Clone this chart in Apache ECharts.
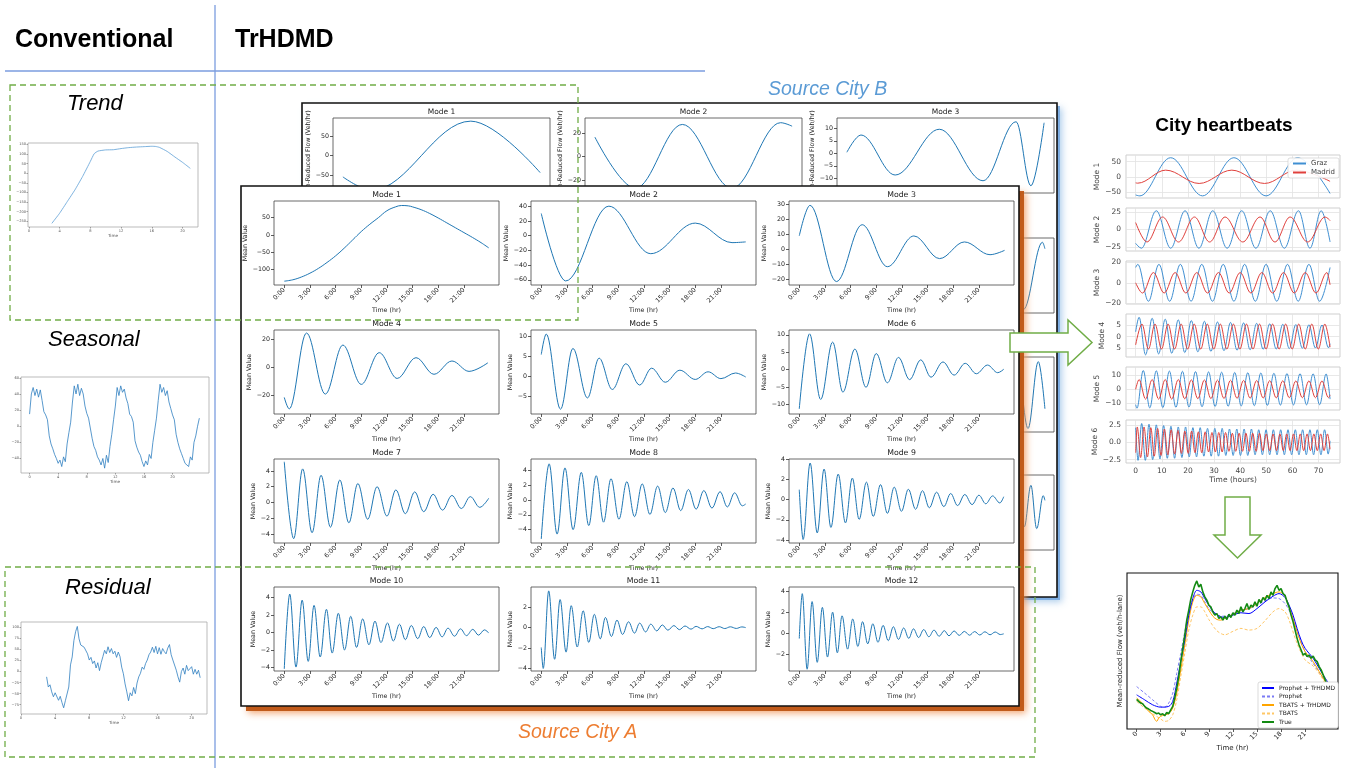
<!DOCTYPE html>
<html><head><meta charset="utf-8">
<script src="https://cdn.jsdelivr.net/npm/echarts@6.0.0/dist/echarts.min.js"></script>
<style>html,body{margin:0;padding:0;background:#fff}#c{width:1351px;height:768px}</style>
</head><body><div id="c"></div><script>
// ================= DATA =================
const hourTicks = [0, 3, 6, 9, 12, 15, 18, 21];
const convTicks = [0, 4, 8, 12, 16, 20];
const hbTicks = [0, 10, 20, 30, 40, 50, 60, 70];

// Conventional decomposition (Time in hours)
const trendData = [[3,-261],[4,-209],[5,-148],[6,-87],[7,-17],[8,61],[8.5,101],[9,115],[10,121],[11,122],[12,128],[13,133],[14,136],[15,138],[16,140],[16.5,139],[17,134],[18,113],[19,84],[20,56],[21,25]];
const seasonalValues = [15,40,48,38,46,36,45,32,18,14,8,-12,-22,-28,-35,-40,-46,-42,-50,-38,-44,-22,-8,5,
  30,50,40,52,38,47,40,25,16,10,12,-15,-25,-30,-38,-42,-48,-40,-52,-36,-45,-25,-10,8,
  25,48,38,50,42,46,35,28,15,12,5,-18,-26,-32,-36,-44,-50,-43,-48,-35,-40,-20,-5,10,
  32,52,42,48,38,44,30,22,14,8,-10,-20,-28,-34,-40,-46,-44,-50,-38,-42,-20,-12,0,10];
const residualValues = [-12,-35,-30,-46,-57,-48,-46,-65,-56,-70,-82,-66,-62,-35,15,33,70,90,102,74,60,64,55,58,40,26,32,18,24,8,20,2,20,34,48,40,56,43,52,40,46,32,44,34,10,-5,-28,-46,-66,-48,-55,-36,-50,-26,-12,-4,10,5,18,26,38,44,55,43,57,40,54,39,52,45,40,53,61,38,26,29,3,-12,-24,0,8,-6,14,2,-2,11,-6,5,-6,3,-14];

// Source City A – 12 modes (hour, mean value)
const modeA1 = [[0,-133],[1,-129],[2,-121],[3,-110],[4,-96],[5,-79],[6,-60],[7,-38],[8,-14],[9,10],[10,31],[11,50],[12,70],[13,81],[13.7,85],[14.5,84],[15,81],[16,73],[17,62],[18,49],[19,35],[20,21],[21,7],[22,-7],[23,-22],[23.9,-37]];
const modeA2 = [[0,30],[2.85,-61.5],[7.9,40],[12.8,-24.5],[18.0,17],[22.3,-9.5],[23.9,-8.5]];
const modeA3 = [[0,9],[1.25,29.3],[4.35,-21.5],[7.35,16.4],[10.3,-11.6],[13.4,8.9],[16.4,-6.2],[19.3,4.9],[22.3,-3.6],[24.0,-0.7]];
const modeA4 = [[0,-21.7],[0.58,-30],[2.6,24.8],[4.8,-19.3],[6.85,16.1],[9.0,-12.3],[11.1,10.6],[13.2,-8],[15.4,7],[17.5,-5],[19.6,4.6],[21.6,-2.9],[23.8,3.3]];
const modeA5 = [[0,5.4],[0.58,10.5],[2.25,-8.2],[3.7,6.9],[5.4,-5.4],[6.76,4.5],[8.3,-3.3],[9.9,3.1],[11.5,-2.2],[12.9,2.0],[14.5,-1.5],[16.2,1.5],[18.0,-0.8],[19.5,1.1],[21.0,-0.6],[22.7,0.8],[23.9,-0.2]];
const modeA6 = [[0,-11.3],[1.2,10.3],[2.5,-8.6],[3.9,7.9],[5.1,-6.5],[6.5,5.9],[7.8,-5.1],[9.0,4.6],[10.3,-3.8],[11.6,3.5],[12.9,-2.9],[14.2,2.8],[15.4,-2.2],[16.8,2.2],[18.1,-1.6],[19.4,1.8],[20.7,-1.2],[22.0,1.3],[23.2,-0.9],[23.9,0.1]];
const modeA7 = [[0,5.15],[1.1,-4.55],[2.15,4.25],[3.25,-3.8],[4.3,3.45],[5.4,-3.1],[6.5,2.85],[7.55,-2.55],[8.6,2.4],[9.75,-2.1],[10.85,2.0],[12.0,-1.7],[13.05,1.6],[14.15,-1.4],[15.25,1.35],[16.3,-1.15],[17.4,1.05],[18.5,-0.95],[19.6,0.9],[20.7,-0.75],[21.75,0.75],[22.85,-0.6],[23.9,0.55]];
const modeA8 = [[0,-5.25],[0.92,4.85],[1.85,-4.6],[2.77,4.3],[3.72,-4.0],[4.68,3.7],[5.55,-3.45],[6.42,3.25],[7.28,-3.0],[8.15,2.85],[9.08,-2.6],[10.0,2.45],[10.9,-2.25],[11.8,2.15],[12.7,-1.95],[13.6,1.85],[14.5,-1.7],[15.4,1.6],[16.3,-1.45],[17.2,1.4],[18.1,-1.25],[19.0,1.25],[19.95,-1.1],[20.9,1.1],[21.75,-0.95],[22.6,0.95],[23.5,-0.8],[23.9,-0.55]];
const modeA9 = [[0,1.0],[0.45,-3.95],[1.27,3.65],[2.1,-3.3],[2.9,3.05],[3.7,-2.75],[4.55,2.55],[5.4,-2.3],[6.2,2.15],[7.0,-1.95],[7.85,1.75],[8.65,-1.65],[9.5,1.5],[10.3,-1.35],[11.1,1.25],[11.95,-1.15],[12.75,1.05],[13.6,-0.95],[14.4,0.9],[15.2,-0.8],[16.05,0.75],[16.9,-0.68],[17.7,0.62],[18.5,-0.58],[19.35,0.52],[20.2,-0.48],[21.0,0.45],[21.8,-0.4],[22.6,0.38],[23.45,-0.32],[23.9,0.3]];
const modeA10 = [[0,-4.15],[0.64,4.4],[1.37,-3.95],[2.09,3.7],[2.8,-3.3],[3.48,3.1],[4.2,-2.8],[4.93,2.65],[5.6,-2.35],[6.32,2.2],[7.05,-2.0],[7.77,1.85],[8.45,-1.7],[9.16,1.55],[9.9,-1.4],[10.6,1.3],[11.3,-1.15],[12.06,1.1],[12.75,-0.98],[13.46,0.95],[14.15,-0.82],[14.85,0.8],[15.6,-0.7],[16.3,0.68],[17.0,-0.58],[17.75,0.58],[18.45,-0.5],[19.14,0.5],[19.9,-0.42],[20.6,0.42],[21.3,-0.36],[22.04,0.36],[22.7,-0.3],[23.4,0.3],[23.9,-0.05]];
const modeA11 = [[0,-1.95],[0.23,-4.0],[0.87,3.6],[1.56,-3.1],[2.2,2.75],[2.9,-2.4],[3.5,2.15],[4.2,-1.9],[4.9,1.65],[5.55,-1.45],[6.2,1.3],[6.9,-1.1],[7.5,1.0],[8.2,-0.87],[8.85,0.74],[9.5,-0.67],[10.2,0.57],[10.9,-0.54],[11.5,0.44],[12.2,-0.42],[12.8,0.34],[13.5,-0.32],[14.15,0.26],[14.8,-0.25],[15.5,0.2],[16.15,-0.2],[16.8,0.16],[17.5,-0.15],[18.1,0.12],[18.8,-0.12],[19.45,0.1],[20.1,-0.1],[20.8,0.09],[21.45,-0.09],[22.1,0.08],[22.8,-0.08],[23.45,0.07],[23.9,0.0]];
const modeA12 = [[0,-0.5],[0.35,3.75],[0.92,-3.4],[1.5,3.0],[2.1,-2.75],[2.7,2.45],[3.3,-2.25],[3.9,2.0],[4.45,-1.85],[5.0,1.65],[5.65,-1.5],[6.25,1.35],[6.85,-1.25],[7.4,1.1],[8.0,-1.0],[8.6,0.9],[9.2,-0.85],[9.8,0.75],[10.4,-0.7],[11.0,0.62],[11.6,-0.58],[12.2,0.5],[12.8,-0.48],[13.35,0.42],[13.95,-0.4],[14.55,0.35],[15.15,-0.33],[15.75,0.3],[16.35,-0.28],[16.95,0.25],[17.5,-0.24],[18.1,0.22],[18.7,-0.2],[19.3,0.18],[19.9,-0.18],[20.5,0.16],[21.1,-0.16],[21.7,0.14],[22.3,-0.14],[22.9,0.12],[23.5,-0.12],[23.9,-0.05]];

// Source City B – visible modes (hour, flow)
const modeB1 = [[0,-54],[3.5,-88],[15.5,88],[23.9,-43]];
const modeB2 = [[0,16.7],[4.9,-27],[10.6,27.5],[16.6,-27],[22.5,29],[23.9,26]];
const modeB3 = [[0,0.4],[1.7,7.3],[5.85,-8.7],[11.2,9.6],[16.5,-11],[20.5,12.6],[22.3,-13],[23.9,12.2]];
const modeB6 = [[19.0,-0.2],[21.4,-0.95],[23.7,0.93],[24.0,0.75]];
const modeB9 = [[19.3,-0.9],[20.6,0.95],[21.95,-0.95],[23.2,0.92],[24.0,-0.4]];
const modeB12 = [[19.9,-0.4],[20.7,0.7],[21.5,-0.4],[22.3,0.76],[23.0,-0.45],[23.8,0.47],[24.0,0.34]];

// City heartbeats (hours, value)
const grazM1 = [[0,-60],[1.6,-63],[13.4,63],[25.6,-63],[37.6,63],[49.9,-63],[62,63],[74.4,-55]];
const madridM1 = [[0,-20],[0.8,-21],[11.5,22],[24.3,-22],[36.8,22],[49.3,-22],[61.5,22],[74.4,-15]];
const grazM2 = [[0,-20],[2.2,-27],[7.9,27],[13.4,-27],[18.9,27],[24.2,-27],[29.5,27],[35.0,-27],[40.6,27],[46.0,-27],[51.5,27],[56.9,-27],[62.3,27],[66.7,-27],[71.0,27],[74.4,-18]];
const madridM2 = [[0,10],[4.3,-18],[10.3,18],[16.4,-18],[22.5,18],[28.3,-18],[34.2,18],[41,-18],[47.6,18],[53.3,-18],[59.1,18],[65.8,-18],[72.5,18],[74.4,13]];
const grazM3 = [[0,15],[0.8,18],[4.9,-18],[8.9,18],[13.0,-18],[17.1,18],[21.2,-18],[25.3,18],[29.4,-18],[33.5,18],[37.6,-18],[41.7,18],[45.8,-18],[49.9,18],[54.0,-18],[58.1,18],[62.2,-18],[66.3,18],[70.4,-18],[74.4,15]];
const madridM3 = [[0,0],[2.6,-10],[6.8,10],[10.9,-10],[15.1,10],[19.2,-10],[23.4,10],[27.5,-10],[31.7,10],[35.8,-10],[40,10],[44.1,-10],[48.3,10],[52.4,-10],[56.6,10],[60.7,-10],[64.9,10],[69,-10],[73.2,10],[74.4,-2]];
const grazM4 = [[0,2],[1.3,8.2],[3.8,-7.8],[6.3,7.8],[8.8,-7.4],[11.3,7.4],[13.8,-7.1],[16.3,7.1],[18.8,-6.8],[21.3,6.8],[23.8,-6.5],[26.3,6.5],[28.8,-6.3],[31.3,6.2],[33.8,-6.0],[36.3,6.0],[38.8,-5.8],[41.3,5.8],[43.8,-5.6],[46.3,5.6],[48.8,-5.4],[51.3,5.4],[53.8,-5.3],[56.3,5.2],[58.8,-5.1],[61.3,5.1],[63.8,-5.0],[66.3,5.0],[68.8,-4.9],[71.3,4.9],[73.8,-4.8],[74.4,-3]];
const madridM4 = [[0,-3.5],[2.4,5.3],[4.9,-5.3],[7.4,5.3],[9.9,-5.3],[12.4,5.3],[14.9,-5.3],[17.4,5.3],[19.9,-5.3],[22.4,5.3],[24.9,-5.3],[27.4,5.3],[29.9,-5.3],[32.4,5.3],[34.9,-5.3],[37.4,5.3],[39.9,-5.3],[42.4,5.3],[44.9,-5.3],[47.4,5.3],[49.9,-5.3],[52.4,5.3],[54.9,-5.3],[57.4,5.3],[59.9,-5.3],[62.4,5.3],[64.9,-5.3],[67.4,5.3],[69.9,-5.3],[72.4,5.3],[74.4,-4.5]];
const grazM5 = [[0,-11],[0.5,-13.5],[2.9,13.5],[5.4,-13.3],[7.9,13.3],[10.4,-13.1],[12.9,13.1],[15.4,-12.9],[17.9,12.9],[20.4,-12.7],[22.9,12.7],[25.4,-12.5],[27.9,12.5],[30.4,-12.3],[32.9,12.3],[35.4,-12.1],[37.9,12.1],[40.4,-11.9],[42.9,11.9],[45.4,-11.7],[47.9,11.7],[50.4,-11.5],[52.9,11.5],[55.4,-11.3],[57.9,11.3],[60.4,-11.2],[62.9,11.2],[65.4,-11.1],[67.9,11.1],[70.4,-11],[72.9,11],[74.4,-7]];
const madridM5 = [[0,0],[1.3,7],[3.8,-7],[6.3,7],[8.8,-7],[11.3,7],[13.8,-7],[16.3,7],[18.8,-6.8],[21.3,6.8],[23.8,-6.7],[26.3,6.7],[28.8,-6.6],[31.3,6.6],[33.8,-6.5],[36.3,6.5],[38.8,-6.4],[41.3,6.4],[43.8,-6.3],[46.3,6.3],[48.8,-6.2],[51.3,6.2],[53.8,-6.1],[56.3,6.1],[58.8,-6],[61.3,6],[63.8,-6],[66.3,6],[68.8,-6],[71.3,6],[73.8,-6],[74.4,-4]];
const grazM6 = [[0,2.1],[0.9,-2.6],[2.3,2.7],[3.7,-2.6],[5.1,2.6],[6.5,-2.5],[7.9,2.5],[9.3,-2.4],[10.7,2.4],[12.1,-2.3],[13.5,2.3],[14.9,-2.3],[16.3,2.2],[17.7,-2.2],[19.1,2.2],[20.5,-2.1],[21.9,2.1],[23.3,-2.1],[24.7,2.1],[26.1,-2.0],[27.5,2.0],[28.9,-2.0],[30.3,2.0],[31.7,-2.0],[33.1,2.0],[34.5,-1.9],[35.9,1.9],[37.3,-1.9],[38.7,1.9],[40.1,-1.9],[41.5,1.9],[42.9,-1.9],[44.3,1.9],[45.7,-1.8],[47.1,1.8],[48.5,-1.8],[49.9,1.8],[51.3,-1.8],[52.7,1.8],[54.1,-1.8],[55.5,1.8],[56.9,-1.8],[58.3,1.8],[59.7,-1.8],[61.1,1.8],[62.5,-1.8],[63.9,1.8],[65.3,-1.8],[66.7,1.8],[68.1,-1.8],[69.5,1.8],[70.9,-1.8],[72.3,1.8],[73.7,-1.7],[74.4,0.2]];
const madridM6 = [[0,-1.5],[0.6,2.2],[1.9,-2.2],[3.2,2.2],[4.5,-2.1],[5.8,2.1],[7.1,-2.0],[8.4,2.0],[9.7,-1.9],[11.0,1.9],[12.3,-1.8],[13.6,1.8],[14.9,-1.7],[16.2,1.7],[17.5,-1.6],[18.8,1.6],[20.1,-1.6],[21.4,1.6],[22.7,-1.5],[24.0,1.5],[25.3,-1.5],[26.6,1.5],[27.9,-1.4],[29.2,1.4],[30.5,-1.4],[31.8,1.4],[33.1,-1.4],[34.4,1.4],[35.7,-1.3],[37.0,1.3],[38.3,-1.3],[39.6,1.3],[40.9,-1.3],[42.2,1.3],[43.5,-1.3],[44.8,1.3],[46.1,-1.3],[47.4,1.3],[48.7,-1.2],[50.0,1.2],[51.3,-1.2],[52.6,1.2],[53.9,-1.2],[55.2,1.2],[56.5,-1.2],[57.8,1.2],[59.1,-1.2],[60.4,1.2],[61.7,-1.2],[63.0,1.2],[64.3,-1.2],[65.6,1.2],[66.9,-1.2],[68.2,1.2],[69.5,-1.2],[70.8,1.2],[72.1,-1.2],[73.4,1.2],[74.4,-1.0]];

// Forecast comparison (hour, mean-reduced flow; arbitrary units, no y ticks in source)
const prophetTr = [[0,21.9],[1,18.7],[2,15.5],[3,14.0],[4,14.5],[4.5,17.7],[5,29.4],[5.5,43.2],[6,57],[6.5,73],[7,83.6],[7.5,88.9],[8,87.9],[8.5,83.6],[9,79.4],[9.5,75.7],[10,73.4],[10.5,71.9],[11,71.5],[12,73],[13,74.5],[14,74],[15,77.2],[16,81.5],[17,85.1],[17.75,86.8],[18.5,84.3],[19,79.4],[19.5,73],[20,64.5],[20.5,57],[21,51.7],[22,45.3],[23,36.8],[23.9,29.4]];
const prophet = [[0,27.2],[1,23],[2,18.7],[3,14.5],[3.5,14],[4,16.6],[4.5,23],[5,35.7],[5.5,48.5],[6,62.3],[6.5,75.1],[7,82.6],[7.5,86.4],[8,85.7],[8.5,81.5],[9,77.2],[10,73],[11,72.3],[12,74],[13,76.2],[14,77.2],[15,79.4],[16,82.1],[17,84],[17.75,83.6],[18.5,80.4],[19,76.2],[19.5,69.8],[20,62.3],[21,49.6],[22,42.1],[23,34.7],[23.9,28.3]];
const tbatsTr = [[0,19.8],[0.5,17.7],[1,14.5],[1.5,11.3],[2,9.1],[2.25,6.4],[2.5,4.9],[2.75,7],[3,8.1],[3.5,9.1],[4,9.8],[4.5,13.4],[5,23],[5.5,37.9],[6,53.8],[6.5,69.8],[7,81.5],[7.5,85.7],[8,84.7],[8.5,80.4],[9,76.2],[9.5,72.3],[10,70.2],[10.5,69.8],[11,70.9],[12,73.6],[13,76.2],[14,77.2],[15,80.4],[16,84.3],[17,86.8],[17.75,87.9],[18.5,85.1],[19,78.3],[19.5,70.9],[20,62.3],[20.5,54.9],[21,49.6],[22,43.2],[23,34.7],[23.9,27.2]];
const tbats = [[0,17.7],[1,13.4],[2,9.8],[3,6.4],[3.5,4.9],[4,5.5],[4.5,9.1],[5,18.7],[5.5,33.6],[6,48.5],[6.5,63.4],[7,73],[7.5,78.3],[8,78.3],[8.5,75.1],[9,70.2],[10,63],[11,60.4],[12,62.6],[13,64.5],[14,63.4],[15,64.5],[16,69.4],[17,75.1],[17.75,77.2],[18.5,75.1],[19,69.8],[20,54.9],[21,44.3],[22,40.4],[23,33.6],[23.9,25.1]];
const trueFlow = [19,17.7,16.6,16.2,14.5,13.4,12.8,11.9,11.3,10.6,9.8,10.2,9.1,9.8,8.5,10.6,9.8,12.3,14.5,19.8,26.2,33.6,43.2,51.7,60.2,69.8,76.2,83,87.9,92.1,94.9,91,92.8,87.9,84.7,82.6,79.4,78.3,75.1,73,74,70.9,71.9,69.8,72.3,70.2,73.6,71.5,74.5,73,76.2,74,78.3,75.1,77.2,80.4,76.6,79.4,78.3,81.5,78.7,83,80.9,84.3,82.6,85.7,83.6,87.9,85.7,90,92.1,88.9,90,86.8,85.7,81.5,78.3,73,68.7,63.4,58.1,53.8,50.6,47.4,48.5,46.4,47.4,45.3,46.8,44.3,43.2,40,37.9,34.7,31.5,28.3,26];

// Axis ranges / tick values per panel
const modeAData = [modeA1,modeA2,modeA3,modeA4,modeA5,modeA6,modeA7,modeA8,modeA9,modeA10,modeA11,modeA12];
const modeARange = [[-144,98],[-67,47],[-23.8,32.2],[-33.7,27],[-9.4,11.5],[-12.8,11.4],[-5.1,5.5],[-5.8,5.5],[-4.3,4.05],[-4.4,5.2],[-4.25,3.98],[-3.57,4.38]];
const modeATicks = [[-100,-50,0,50],[-60,-40,-20,0,20,40],[-20,-10,0,10,20,30],[-20,0,20],[-5,0,5,10],[-10,-5,0,5,10],[-4,-2,0,2,4],[-4,-2,0,2,4],[-4,-2,0,2,4],[-4,-2,0,2,4],[-4,-2,0,2],[-2,0,2,4]];
const hbGraz = [grazM1,grazM2,grazM3,grazM4,grazM5,grazM6];
const hbMadrid = [madridM1,madridM2,madridM3,madridM4,madridM5,madridM6];
const hbRange = [[-70,72],[-31,31],[-20.7,21.3],[-8.7,9.6],[-14.8,16],[-2.98,3.2]];
const hbTicks_y = [[-50,0,50],[-25,0,25],[-20,0,20],[-5,0,5],[-10,0,10],[-2.5,0,2.5]];

// ================= BUILD =================
const FONT = '"DejaVu Sans", sans-serif';
const ARIAL = '"Liberation Sans", Arial, sans-serif';
const mn = v => String(v).replace('-', '\u2212');
const grid = [], xAxis = [], yAxis = [], series = [], graphic = [];

function plot(p) {
  const i = grid.length;
  grid.push({left: p.l, top: p.t, width: p.w, height: p.h, show: true, z: p.z, backgroundColor: 'transparent',
    borderColor: p.bc || '#333', borderWidth: p.bw || 0.8});
  const lc = p.lc || '#222';
  xAxis.push({gridIndex: i, type: 'value', min: p.x[0], max: p.x[1], z: p.z, position: 'bottom',
    axisLine: {show: false, onZero: false},
    axisTick: {show: p.xtick !== false, customValues: p.xt, length: p.tl || 3, lineStyle: {color: p.tc || '#333', width: 0.8}},
    axisLabel: {show: p.xlab !== false, customValues: p.xt, formatter: p.xf || mn, rotate: p.xr || 0,
      fontSize: p.fs, color: lc, fontFamily: FONT, margin: p.xm || 4},
    splitLine: {show: !!p.gl, lineStyle: {color: '#e2e2e2', width: 0.8}},
    name: p.xn || '', nameLocation: 'middle', nameGap: p.xng || 20,
    nameTextStyle: {fontSize: p.nfs || p.fs, color: lc, fontFamily: FONT}});
  yAxis.push({gridIndex: i, type: 'value', min: p.y[0], max: p.y[1], z: p.z, position: 'left',
    axisLine: {show: false, onZero: false},
    axisTick: {show: p.ytick !== false, customValues: p.yt, length: p.tl || 3, lineStyle: {color: p.tc || '#333', width: 0.8}},
    axisLabel: {show: p.ylab !== false, customValues: p.yt, formatter: p.yf || mn,
      fontSize: p.fs, color: lc, fontFamily: FONT, margin: p.ym || 4},
    splitLine: {show: !!p.gl, lineStyle: {color: '#e2e2e2', width: 0.8}},
    name: p.yn || '', nameLocation: 'middle', nameRotate: 90, nameGap: p.yng || 20,
    nameTextStyle: {fontSize: p.nfs || p.fs, color: lc, fontFamily: FONT}});
  return i;
}
function line(gi, data, color, o) {
  o = o || {};
  const s = {type: 'line', xAxisIndex: gi, yAxisIndex: gi, data: data, symbol: 'none', showSymbol: false,
    smooth: o.smooth === undefined ? 0.36 : o.smooth,
    lineStyle: {color: color, width: o.w || 1, type: o.dash || 'solid'}, itemStyle: {color: color},
    z: o.z || 3, silent: true, animation: false, clip: true};
  if (o.name) s.name = o.name;
  if (o.mono !== false) s.smoothMonotone = 'x';
  series.push(s);
}
function txt(x, y, text, font, fill, align, z, rot) {
  const e = {type: 'text', x: x, y: y, z: z || 20, silent: true,
    style: {text: text, font: font, fill: fill || '#000', align: align || 'left', verticalAlign: 'middle',
      textAlign: align || 'left', textVerticalAlign: 'middle'}};
  if (rot) e.rotation = rot;
  graphic.push(e);
}
function panel(x, y, w, h, z, dark, glow, off) {
  // coloured drop shadow: a solid offset band with a soft glow, then the white panel and its frame
  graphic.push({type: 'rect', z: z - 0.5, silent: true, shape: {x: x + off, y: y + off, width: w, height: h},
    style: {fill: dark, shadowBlur: 7, shadowColor: glow, shadowOffsetX: 2, shadowOffsetY: 2}});
  graphic.push({type: 'rect', z: z, silent: true, shape: {x: x, y: y, width: w, height: h}, style: {fill: '#fff'}});
  graphic.push({type: 'rect', z: z, silent: true, shape: {x: x, y: y, width: w, height: h},
    style: {fill: 'none', stroke: '#111', lineWidth: 1.6}});
}

// ---- background lines & headings ----
graphic.push({type: 'line', z: 1, silent: true, shape: {x1: 215, y1: 5, x2: 215, y2: 768}, style: {stroke: '#7b9ddf', lineWidth: 1.3}});
graphic.push({type: 'line', z: 1, silent: true, shape: {x1: 5, y1: 71, x2: 705, y2: 71}, style: {stroke: '#7b9ddf', lineWidth: 1.3}});
txt(15, 40, 'Conventional', 'bold 25px ' + ARIAL, '#000');
txt(235, 40, 'TrHDMD', 'bold 25px ' + ARIAL, '#000');
txt(67, 104, 'Trend', 'italic 22px ' + ARIAL, '#000');
txt(48, 340, 'Seasonal', 'italic 22px ' + ARIAL, '#000');
txt(65, 588, 'Residual', 'italic 22px ' + ARIAL, '#000');
txt(768, 90, 'Source City B', 'italic 19.5px ' + ARIAL, '#5b9bd5');
txt(518, 733, 'Source City A', 'italic 19.5px ' + ARIAL, '#ed7d31');
txt(1224, 126, 'City heartbeats', 'bold 19px ' + ARIAL, '#000', 'center');

// ---- conventional small plots ----
const cfs = 3.6;
let g = plot({l: 28, t: 143, w: 170, h: 84, x: [-0.1, 22], y: [-280, 157], xt: convTicks, yt: [-250,-200,-150,-100,-50,0,50,100,150],
  fs: cfs, lc: '#555', bc: '#aaa', tc: '#888', tl: 1.5, xm: 2, ym: 2, xn: 'Time', xng: 5, nfs: 4.2, z: 2});
line(g, trendData, '#5d9fd6', {mono: false, smooth: 0.15, w: 0.8});
g = plot({l: 21, t: 377, w: 188, h: 96, x: [-1.2, 25.1], y: [-58, 61], xt: convTicks, yt: [-40,-20,0,20,40,60],
  fs: cfs, lc: '#555', bc: '#aaa', tc: '#888', tl: 1.5, xm: 2, ym: 2, xn: 'Time', xng: 5, nfs: 4.2, z: 2});
line(g, seasonalValues.map((v, i) => [i * 0.25, v]), '#2f7fc0', {mono: false, smooth: 0, w: 0.8});
g = plot({l: 21, t: 622, w: 186, h: 92, x: [0, 21.8], y: [-96, 112], xt: convTicks, yt: [-75,-50,-25,0,25,50,75,100],
  fs: cfs, lc: '#555', bc: '#aaa', tc: '#888', tl: 1.5, xm: 2, ym: 2, xn: 'Time', xng: 5, nfs: 4.2, z: 2});
line(g, residualValues.map((v, i) => [3 + i * 0.2, v]), '#2f7fc0', {mono: false, smooth: 0, w: 0.8});

// ---- Source City B panel (behind) ----
panel(302, 103, 755, 494, 1, 'rgba(120,170,225,0.9)', 'rgba(157,195,230,0.9)', 3);
const bCols = [333, 585, 837], bRows = [118, 238, 357, 475], bW = 217, bH = 75;
const bCfg = [
  {r: 0, c: 0, d: modeB1, y: [-95, 96], yt: [-50, 0, 50], t: 'Mode 1', yng: 14},
  {r: 0, c: 1, d: modeB2, y: [-31, 33], yt: [-20, 0, 20], t: 'Mode 2', yng: 14},
  {r: 0, c: 2, d: modeB3, y: [-15.9, 14.1], yt: [-10, -5, 0, 5, 10], t: 'Mode 3', yng: 18},
  {r: 1, c: 2, d: modeB6, y: [-1.05, 1.05], yt: [-1, 0, 1], t: 'Mode 6', yng: 14},
  {r: 2, c: 2, d: modeB9, y: [-1.05, 1.05], yt: [-1, 0, 1], t: 'Mode 9', yng: 14},
  {r: 3, c: 2, d: modeB12, y: [-1.05, 1.05], yt: [-1, 0, 1], t: 'Mode 12', yng: 14}];
bCfg.forEach(b => {
  const gi = plot({l: bCols[b.c], t: bRows[b.r], w: bW, h: bH, x: [-1.2, 25.1], y: b.y, xt: hourTicks, yt: b.yt,
    xf: v => v + ':00', xr: 45, fs: 6.3, lc: '#222', bc: '#444', yn: 'Mean-Reduced Flow (Veh/hr)', yng: b.yng,
    xn: 'Time (hr)', xng: 22, nfs: 6.3, z: 2});
  line(gi, b.d, '#1f77b4', {z: 3});
  txt(bCols[b.c] + bW / 2, bRows[b.r] - 6, b.t, '7.5px ' + FONT, '#222', 'center', 3);
});

// ---- Source City A panel (front) ----
panel(241, 186, 778, 520, 5, 'rgba(190,85,20,0.95)', 'rgba(240,150,90,0.9)', 5);
const aCols = [274, 531, 789], aRows = [201, 330, 459, 587], aW = 225, aH = 84;
const aNameGap = [22, 18.5, 18.8, 18.5, 15, 19.5, 15.5, 15, 15.5, 15.5, 15.5, 15.5];
modeAData.forEach((d, k) => {
  const r = Math.floor(k / 3), c = k % 3;
  const gi = plot({l: aCols[c], t: aRows[r], w: aW, h: aH, x: [-1.2, 25.1], y: modeARange[k], xt: hourTicks, yt: modeATicks[k],
    xf: v => v + ':00', xr: 45, fs: 6.3, lc: '#222', bc: '#444', yn: 'Mean Value', yng: aNameGap[k],
    xn: 'Time (hr)', xng: 22, nfs: 6.3, z: 6});
  if (k === 0) line(gi, d, '#1f77b4', {z: 7, mono: false, smooth: 0.4});
  else line(gi, d, '#1f77b4', {z: 7});
  txt(aCols[c] + aW / 2, aRows[r] - 6, 'Mode ' + (k + 1), '7.8px ' + FONT, '#222', 'center', 7);
});

// ---- overlays: dashed boxes and arrows ----
graphic.push({type: 'rect', z: 20, silent: true, shape: {x: 10, y: 85, width: 568, height: 235},
  style: {fill: 'none', stroke: '#70ad47', lineWidth: 1.3, lineDash: [6, 4]}});
graphic.push({type: 'rect', z: 20, silent: true, shape: {x: 5, y: 567, width: 1030, height: 190},
  style: {fill: 'none', stroke: '#70ad47', lineWidth: 1.3, lineDash: [6, 4]}});
graphic.push({type: 'polygon', z: 20, silent: true,
  shape: {points: [[1010, 333], [1068, 333], [1068, 320], [1092, 342.5], [1068, 365], [1068, 352], [1010, 352]]},
  style: {fill: '#fff', stroke: '#70ad47', lineWidth: 1.5}});
graphic.push({type: 'polygon', z: 20, silent: true,
  shape: {points: [[1225, 497], [1250, 497], [1250, 535], [1261, 535], [1237.5, 558], [1214, 535], [1225, 535]]},
  style: {fill: '#fff', stroke: '#70ad47', lineWidth: 1.5}});

// ---- City heartbeats ----
const hbTops = [155, 208, 261, 314, 367, 420];
hbTops.forEach((t, k) => {
  const last = k === 5;
  const gi = plot({l: 1126, t: t, w: 214, h: 43, x: [-3.7, 78.2], y: hbRange[k], xt: hbTicks, yt: hbTicks_y[k],
    xtick: false, ytick: false, xlab: last, gl: true, fs: 7.5, lc: '#444', bc: '#cfcfcf', bw: 1,
    yf: k === 5 ? (v => mn(v.toFixed(1))) : (k === 3 ? (v => String(Math.abs(v))) : mn),
    yn: 'Mode ' + (k + 1), yng: 20, nfs: 7.5, xn: last ? 'Time (hours)' : '', xng: 12, ym: 5, xm: 4, z: 2});
  line(gi, hbGraz[k], '#3f8fd2', {name: 'Graz', w: 1});
  line(gi, hbMadrid[k], '#e0403c', {name: 'Madrid', w: 1});
});

// ---- forecast panel ----
g = plot({l: 1127, t: 573, w: 211, h: 156, x: [-1.2, 25.1], y: [0, 100], xt: hourTicks, yt: [],
  ytick: false, ylab: false, xr: 45, fs: 6.5, lc: '#222', bc: '#111', bw: 1.1,
  xn: 'Time (hr)', xng: 14, nfs: 7, yn: 'Mean-reduced Flow (veh/h-lane)', yng: 3, z: 2});
line(g, tbats, '#ffc766', {name: 'TBATS', dash: [3, 2], mono: false, smooth: 0.3});
line(g, prophet, '#7b7bf5', {name: 'Prophet', dash: [3, 2], mono: false, smooth: 0.3});
line(g, tbatsTr, '#ffa500', {name: 'TBATS + TrHDMD', mono: false, smooth: 0.3});
line(g, prophetTr, '#0000ff', {name: 'Prophet + TrHDMD', mono: false, smooth: 0.3});
line(g, trueFlow.map((v, i) => [i * 0.25, v]), '#138a13', {name: 'True', w: 1.6, mono: false, smooth: 0});

const option = {
  animation: false,
  backgroundColor: '#fff',
  grid: grid, xAxis: xAxis, yAxis: yAxis, series: series,
  graphic: {elements: graphic},
  legend: [
    {data: ['Graz', 'Madrid'], left: 1288, top: 158, orient: 'vertical', itemGap: 2, itemWidth: 13, itemHeight: 6,
      padding: [2, 4], backgroundColor: 'rgba(255,255,255,0.9)', borderColor: '#d0d0d0', borderWidth: 0.7, borderRadius: 2,
      itemStyle: {opacity: 0}, textStyle: {fontSize: 7, color: '#444', fontFamily: FONT}, selectedMode: false, z: 10},
    {data: ['Prophet + TrHDMD', 'Prophet', 'TBATS + TrHDMD', 'TBATS', 'True'], left: 1258, top: 682, orient: 'vertical',
      itemGap: 2.5, itemWidth: 12, itemHeight: 6, padding: [3, 3], backgroundColor: '#fff', borderColor: '#ccc', borderWidth: 0.7,
      borderRadius: 2, itemStyle: {opacity: 0}, textStyle: {fontSize: 6, color: '#222', fontFamily: FONT}, selectedMode: false, z: 10}
  ]
};
const chart = echarts.init(document.getElementById('c'), null, {renderer: 'canvas', width: 1351, height: 768});
chart.setOption(option);
</script></body></html>
